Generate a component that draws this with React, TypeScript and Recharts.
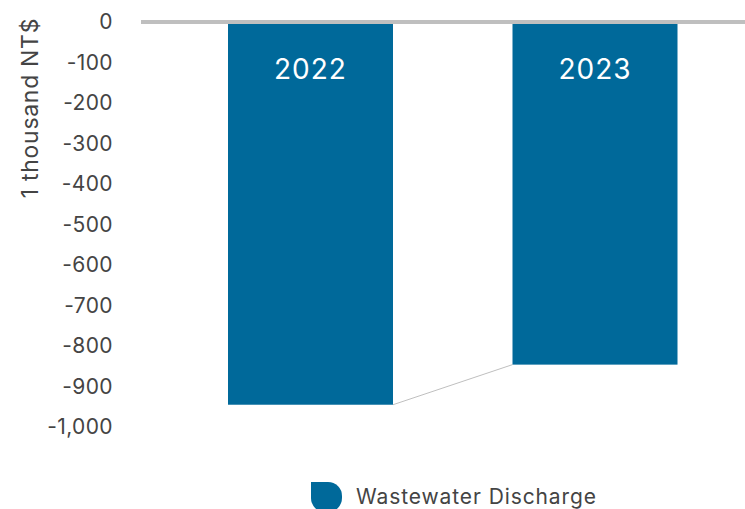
import { BarChart, Bar, XAxis, YAxis, ReferenceLine, Legend, LabelList } from 'recharts';

const years = ['2022', '2023'];
const wastewaterDischarge = [-945, -846];
const yTicks = [0, -100, -200, -300, -400, -500, -600, -700, -800, -900, -1000];

const data = years.map((year, i) => ({ year, value: wastewaterDischarge[i] }));

const BLUE = '#00699A';
const GRAY = '#BFBFBF';
const TEXT = '#444444';
const FONT = 'Inter, "Open Sans", sans-serif';

const WIDTH = 745;
const HEIGHT = 509;
const AXIS_W = 141;
const PAD_L = 27;
const PAD_R = 8;
const BAR_SIZE = 165;
const BAND = (WIDTH - AXIS_W - PAD_L - PAD_R) / data.length;

// bar with a thin connector from its bottom-right corner to the next bar's bottom-left corner
function ConnectedBar(props: any) {
  const { x, y, width, height, index, value } = props;
  const top = Math.min(y, y + height);
  const h = Math.abs(height);
  const next = data[index + 1];
  let connector = null;
  if (next && value) {
    const pxPerUnit = h / Math.abs(value);
    const nextBottom = top + Math.abs(next.value) * pxPerUnit;
    connector = (
      <line
        x1={x + width}
        y1={top + h}
        x2={x + width + (BAND - width)}
        y2={nextBottom}
        stroke={GRAY}
        strokeWidth={1}
      />
    );
  }
  return (
    <g>
      <rect x={x} y={top} width={width} height={h} fill={BLUE} />
      {connector}
    </g>
  );
}

function LegendContent() {
  return (
    <div style={{ height: 82, position: 'relative', fontFamily: FONT }}>
      <svg width={32} height={30} style={{ position: 'absolute', left: 311, top: 55 }}>
        <path d="M0,0 H17 A14,14 0 0 1 31,14 V16 A14,14 0 0 1 17,30 H14 A14,14 0 0 1 0,16 Z" fill={BLUE} />
      </svg>
      <span
        style={{
          position: 'absolute',
          left: 356,
          top: 56,
          fontSize: 21,
          letterSpacing: 0.9,
          color: TEXT,
          lineHeight: '28px',
          whiteSpace: 'nowrap',
        }}
      >
        Wastewater Discharge
      </span>
    </div>
  );
}

export default function App() {
  return (
    <div style={{ position: 'absolute', left: 0, top: 0, width: WIDTH, height: HEIGHT, background: '#fff' }}>
      <BarChart width={WIDTH} height={HEIGHT} data={data} margin={{ top: 22, right: 0, bottom: 0, left: 0 }}>
        <XAxis dataKey="year" hide padding={{ left: PAD_L, right: PAD_R }} />
        <YAxis
          width={AXIS_W}
          domain={[-1000, 0]}
          ticks={yTicks}
          interval={0}
          axisLine={false}
          tickLine={false}
          tickMargin={22}
          tick={{ fill: TEXT, fontSize: 21, fontFamily: FONT, letterSpacing: 0.4 }}
          tickFormatter={(v: number) => v.toLocaleString('en-US')}
          label={{
            content: () => (
              <text
                x={32}
                y={108}
                transform="rotate(-90 32 108)"
                textAnchor="middle"
                dominantBaseline="middle"
                fill={TEXT}
                fontSize={23}
                letterSpacing={0.7}
                fontFamily={FONT}
              >
                1 thousand NT$
              </text>
            ),
          }}
        />
        <Legend verticalAlign="bottom" content={<LegendContent />} />
        <Bar dataKey="value" barSize={BAR_SIZE} shape={<ConnectedBar />} isAnimationActive={false}>
          <LabelList
            dataKey="year"
            content={(p: any) => (
              <text
                x={p.x + p.width / 2}
                y={Math.min(p.y, p.y + p.height) + 49}
                textAnchor="middle"
                dominantBaseline="middle"
                fill="#fff"
                fontSize={28}
                letterSpacing={1}
                fontFamily={FONT}
              >
                {p.value}
              </text>
            )}
          />
        </Bar>
        <ReferenceLine y={0} stroke={GRAY} strokeWidth={4} />
      </BarChart>
    </div>
  );
}
